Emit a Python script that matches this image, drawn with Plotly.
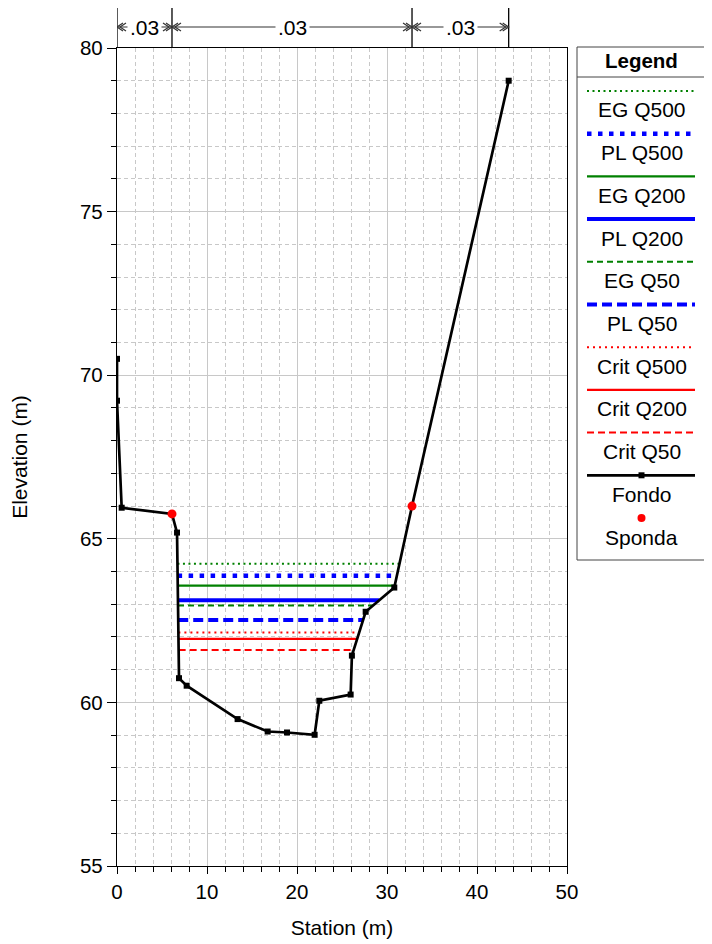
import plotly.graph_objects as go

# ---------------- data ----------------
ground_station = [0.0, 0.0, 0.52, 6.11, 6.67, 6.89, 7.74, 13.40, 16.74, 18.89, 21.96,
                  22.48, 25.96, 26.10, 27.63, 30.81, 32.78, 43.52]
ground_elev = [70.50, 69.22, 65.95, 65.76, 65.19, 60.74, 60.51, 59.49, 59.11, 59.08, 59.01,
               60.05, 60.24, 61.43, 62.77, 63.51, 66.00, 79.00]

bank_station = [6.11, 32.78]
bank_elev = [65.76, 66.00]

profile_names = ["EG Q500", "PL Q500", "EG Q200", "PL Q200", "EG Q50", "PL Q50",
                 "Crit Q500", "Crit Q200", "Crit Q50"]
profile_wse = [64.24, 63.87, 63.57, 63.12, 62.96, 62.52, 62.14, 61.94, 61.60]

mann_station = [0.0, 6.11, 32.78, 43.52]
mann_n = [".03", ".03", ".03"]

x_ticks = [0, 10, 20, 30, 40, 50]
y_ticks = [55, 60, 65, 70, 75, 80]

# ---------------- styles ----------------
GREEN, BLUE, RED = "#008000", "#0000ff", "#ff0000"
profile_colors = [GREEN, BLUE, GREEN, BLUE, GREEN, BLUE, RED, RED, RED]
profile_widths = [2, 4.5, 2.2, 4, 2, 4, 2, 2.2, 2]
profile_dash = ["2px,3.5px", "4.5px,6.5px", "solid", "solid", "6px,4px", "10px,5px",
                "2px,4px", "solid", "7px,4px"]

FONT = "Liberation Sans, Arial, sans-serif"
OFF = 8  # browser body margin
W, H = 712 - OFF, 944 - OFF
L, R, T, B = 117 - OFF, 145, 48 - OFF, 78
PW, PH = W - L - R, H - T - B
LEG_FS = 21


def px_x(px):
    return (px - OFF - L) / PW


def px_y(py):
    return (H - B - (py - OFF)) / PH


def edges(wse):
    imin = ground_elev.index(min(ground_elev))
    i = imin
    while ground_elev[i - 1] < wse:
        i -= 1
    x1, y1, x2, y2 = ground_station[i - 1], ground_elev[i - 1], ground_station[i], ground_elev[i]
    xl = x1 + (wse - y1) * (x2 - x1) / (y2 - y1)
    j = imin
    while ground_elev[j + 1] < wse:
        j += 1
    x1, y1, x2, y2 = ground_station[j], ground_elev[j], ground_station[j + 1], ground_elev[j + 1]
    xr = x1 + (wse - y1) * (x2 - x1) / (y2 - y1)
    return xl, xr


fig = go.Figure()

for name, wse, c, w, d in zip(profile_names, profile_wse, profile_colors, profile_widths, profile_dash):
    xl, xr = edges(wse)
    fig.add_trace(go.Scatter(x=[xl, xr], y=[wse, wse], mode="lines", name=name,
                             line=dict(color=c, width=w, dash=d), showlegend=False,
                             hoverinfo="skip"))

fig.add_trace(go.Scatter(x=ground_station, y=ground_elev, mode="lines+markers", name="Fondo",
                         line=dict(color="black", width=2.7),
                         marker=dict(symbol="square", size=6, color="black"),
                         showlegend=False))
fig.add_trace(go.Scatter(x=bank_station, y=bank_elev, mode="markers", name="Sponda",
                         marker=dict(symbol="circle", size=9, color=RED),
                         showlegend=False))

shapes = []
annotations = []

# ---- Manning's n bars above plot ----
y_bar = px_y(27)
dx = 6 / (PW / 50.0)
dx2 = 3 / (PW / 50.0)
dy = 4 / PH
for s in mann_station:
    shapes.append(dict(type="line", xref="x", yref="paper", x0=s, x1=s, y0=1, y1=px_y(5),
                       line=dict(color="black", width=1.3)))
for a, b, n in zip(mann_station[:-1], mann_station[1:], mann_n):
    shapes.append(dict(type="line", xref="x", yref="paper", x0=a, x1=b, y0=y_bar, y1=y_bar,
                       line=dict(color="#333333", width=1.2)))
    for off in (0, dx2):
        shapes.append(dict(type="path", xref="x", yref="paper",
                           path=f"M {b - off - dx},{y_bar + dy} L {b - off},{y_bar} L {b - off - dx},{y_bar - dy}",
                           line=dict(color="#333333", width=1.2)))
        shapes.append(dict(type="path", xref="x", yref="paper",
                           path=f"M {a + off + dx},{y_bar + dy} L {a + off},{y_bar} L {a + off + dx},{y_bar - dy}",
                           line=dict(color="#333333", width=1.2)))
    annotations.append(dict(x=(a + b) / 2, y=y_bar, xref="x", yref="paper", text=n,
                            showarrow=False, bgcolor="white", borderpad=2,
                            xanchor="center", yanchor="middle",
                            font=dict(family=FONT, size=21, color="black")))

# ---- custom legend ----
lx0, lx1, ly0, ly1 = 577, 706, 47, 560
cx = (lx0 + lx1) / 2
shapes.append(dict(type="rect", xref="paper", yref="paper", x0=px_x(lx0), x1=px_x(lx1),
                   y0=px_y(ly1), y1=px_y(ly0), line=dict(color="#444444", width=1),
                   fillcolor="white", layer="below"))
shapes.append(dict(type="line", xref="paper", yref="paper", x0=px_x(lx0), x1=px_x(lx1),
                   y0=px_y(77), y1=px_y(77), line=dict(color="#444444", width=1)))
annotations.append(dict(x=px_x(cx), y=px_y(61), xref="paper", yref="paper", text="<b>Legend</b>",
                        showarrow=False, xanchor="center", yanchor="middle",
                        font=dict(family=FONT, size=20.5, color="black")))

step = 42.7
items = list(zip(profile_names, profile_colors, profile_widths, profile_dash))
for k, (name, c, w, d) in enumerate(items):
    yl = 91 + step * k
    shapes.append(dict(type="line", xref="paper", yref="paper", x0=px_x(587), x1=px_x(695),
                       y0=px_y(yl), y1=px_y(yl), line=dict(color=c, width=w, dash=d)))
    annotations.append(dict(x=px_x(cx), y=px_y(yl + 19), xref="paper", yref="paper", text=name,
                            showarrow=False, xanchor="center", yanchor="middle",
                            font=dict(family=FONT, size=LEG_FS, color="black")))
k = len(items)
yl = 91 + step * k
shapes.append(dict(type="line", xref="paper", yref="paper", x0=px_x(587), x1=px_x(695),
                   y0=px_y(yl), y1=px_y(yl), line=dict(color="black", width=2.7)))
shapes.append(dict(type="rect", xref="paper", yref="paper", xsizemode="pixel", ysizemode="pixel",
                   xanchor=px_x(cx), yanchor=px_y(yl), x0=-3, x1=3, y0=-3, y1=3,
                   fillcolor="black", line=dict(width=0)))
annotations.append(dict(x=px_x(cx), y=px_y(yl + 19), xref="paper", yref="paper", text="Fondo",
                        showarrow=False, xanchor="center", yanchor="middle",
                        font=dict(family=FONT, size=LEG_FS, color="black")))
k += 1
yl = 91 + step * k
shapes.append(dict(type="circle", xref="paper", yref="paper", xsizemode="pixel", ysizemode="pixel",
                   xanchor=px_x(cx), yanchor=px_y(yl), x0=-4, x1=4, y0=-4, y1=4,
                   fillcolor=RED, line=dict(width=0)))
annotations.append(dict(x=px_x(cx), y=px_y(yl + 19), xref="paper", yref="paper", text="Sponda",
                        showarrow=False, xanchor="center", yanchor="middle",
                        font=dict(family=FONT, size=LEG_FS, color="black")))

grid_c = "#c8c8c8"
fig.update_layout(
    width=W, height=H,
    margin=dict(l=L, r=R, t=T, b=B, autoexpand=False),
    paper_bgcolor="white", plot_bgcolor="white",
    font=dict(family=FONT, size=19, color="black"),
    showlegend=False,
    shapes=shapes, annotations=annotations,
    xaxis=dict(range=[0, 50], tickvals=x_ticks, ticks="outside", ticklen=7, tickcolor="black",
               showline=True, linecolor="black", linewidth=1.3, mirror=True,
               showgrid=True, gridcolor=grid_c, gridwidth=1.3, zeroline=False,
               minor=dict(dtick=2, ticks="outside", ticklen=5, tickcolor="black",
                          showgrid=True, gridcolor=grid_c, griddash="4px,3px", gridwidth=1),
               title=dict(text="Station (m)", standoff=18, font=dict(size=21)),
               tickfont=dict(size=20.5)),
    yaxis=dict(range=[55, 80], tickvals=y_ticks, ticks="outside", ticklen=9, tickcolor="black",
               showline=True, linecolor="black", linewidth=1.3, mirror=True,
               showgrid=True, gridcolor=grid_c, gridwidth=1.3, zeroline=False,
               minor=dict(dtick=1, ticks="outside", ticklen=5, tickcolor="black",
                          showgrid=True, gridcolor=grid_c, griddash="4px,3px", gridwidth=1),
               title=dict(text="Elevation (m)", standoff=48, font=dict(size=21)),
               tickfont=dict(size=20.5)),
)

fig.write_html("out.html")
